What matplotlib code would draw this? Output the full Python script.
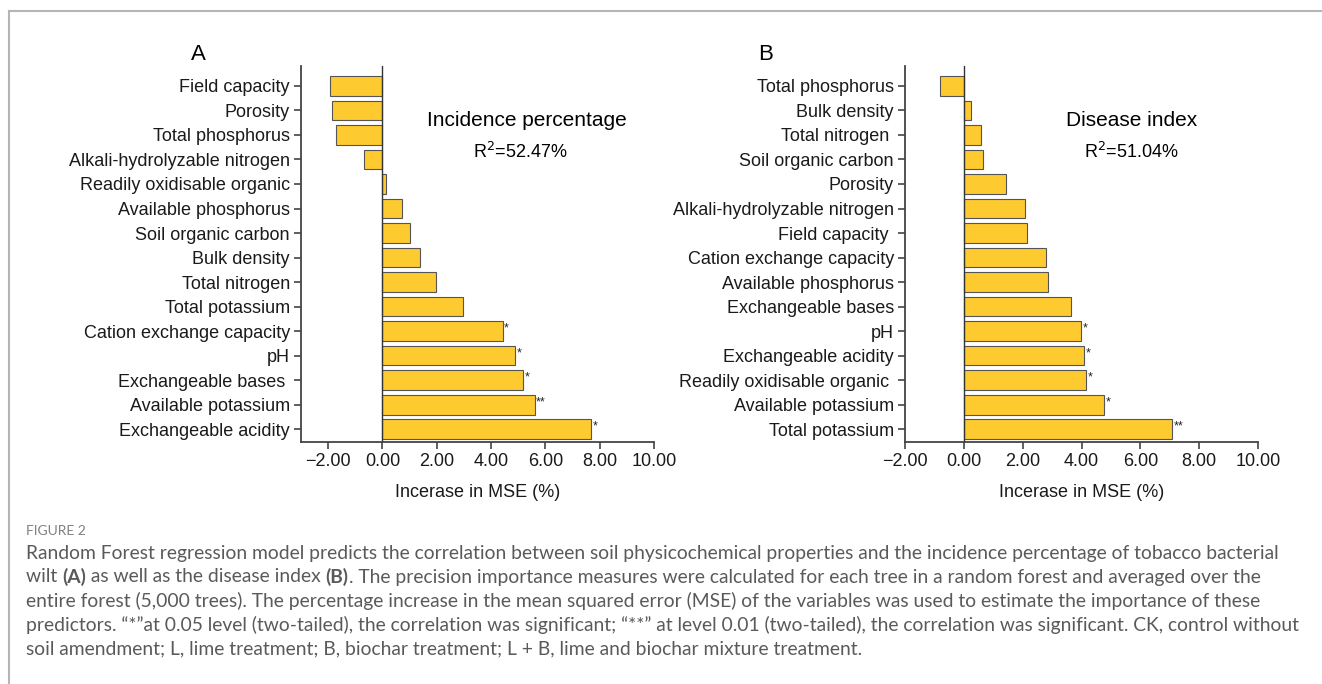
import matplotlib
matplotlib.use("Agg")
import matplotlib.pyplot as plt
from matplotlib.lines import Line2D

plt.rcParams['font.family'] = ['Liberation Sans', 'DejaVu Sans']

# panel A - incidence percentage
labels_a = ["Field capacity", "Porosity", "Total phosphorus", "Alkali-hydrolyzable nitrogen",
            "Readily oxidisable organic", "Available phosphorus", "Soil organic carbon",
            "Bulk density", "Total nitrogen", "Total potassium", "Cation exchange capacity",
            "pH", "Exchangeable bases ", "Available potassium", "Exchangeable acidity"]
values_a = [-1.95, -1.87, -1.70, -0.67, 0.13, 0.73, 1.03, 1.39, 1.97, 2.96, 4.43, 4.88, 5.19, 5.61, 7.69]
sig_a = ["", "", "", "", "", "", "", "", "", "", "*", "*", "*", "**", "*"]

# panel B - disease index
labels_b = ["Total phosphorus", "Bulk density", "Total nitrogen ", "Soil organic carbon",
            "Porosity", "Alkali-hydrolyzable nitrogen", "Field capacity ",
            "Cation exchange capacity", "Available phosphorus", "Exchangeable bases", "pH",
            "Exchangeable acidity", "Readily oxidisable organic ", "Available potassium",
            "Total potassium"]
values_b = [-0.81, 0.25, 0.59, 0.66, 1.43, 2.08, 2.14, 2.79, 2.87, 3.65, 3.99, 4.09, 4.15, 4.77, 7.08]
sig_b = ["", "", "", "", "", "", "", "", "", "", "*", "*", "*", "*", "**"]

xticks = [-2, 0, 2, 4, 6, 8, 10]

W, H = 1322, 684
fig = plt.figure(figsize=(W / 100, H / 100), dpi=100)


def box(x0, x1, y0, y1):
    return [x0 / W, 1 - y1 / H, (x1 - x0) / W, (y1 - y0) / H]


def ftext(x, y, s, **kw):
    # place text in pixel coords from top-left
    return fig.text(x / W, 1 - y / H, s, **kw)


def panel(ax, labels, values, sig, xmin):
    y = list(range(len(labels)))
    ax.barh(y, values, height=0.8, color="#FDCA30", edgecolor="#555555", linewidth=0.8, zorder=2)
    ax.axvline(0, color="#333333", lw=1.0, zorder=3)
    for yi, v, s in zip(y, values, sig):
        if s:
            ax.text(v + 0.05, yi - 0.1, s, fontsize=9, va="center", ha="left", color="#222222")
    ax.set_ylim(len(labels) - 0.48, -0.81)
    ax.set_xlim(xmin, 10)
    ax.set_xticks(xticks)
    ax.set_xticklabels(["\u22122.00" if t < 0 else "%.2f" % t for t in xticks])
    ax.set_yticks(y)
    ax.set_yticklabels(labels)
    for s in ["top", "right"]:
        ax.spines[s].set_visible(False)
    for s in ["left", "bottom"]:
        ax.spines[s].set_color("#444444")
        ax.spines[s].set_linewidth(1.3)
    ax.tick_params(axis="both", labelsize=13, color="#444444", width=1.2, length=5, pad=3,
                   labelcolor="#1a1a1a")
    ax.set_xlabel("Incerase in MSE (%)", fontsize=13, labelpad=10, color="#1a1a1a")


ax1 = fig.add_axes(box(301, 654, 66, 442))
panel(ax1, labels_a, values_a, sig_a, -3)
ftext(198, 55, "A", fontsize=16, ha="center", va="center")
ftext(527, 120, "Incidence percentage", fontsize=15, ha="center", va="center")
ftext(520, 152, r"R$^2$=52.47%", fontsize=13, ha="center", va="center")

ax2 = fig.add_axes(box(905, 1258, 66, 442))
panel(ax2, labels_b, values_b, sig_b, -2)
ftext(766, 55, "B", fontsize=16, ha="center", va="center")
ftext(1132, 120, "Disease index", fontsize=15, ha="center", va="center")
ftext(1131, 152, r"R$^2$=51.04%", fontsize=13, ha="center", va="center")

# frame lines
fig.add_artist(Line2D([9 / W, 1], [1 - 11 / H, 1 - 11 / H], color="#b5b5b5", lw=1.5))
fig.add_artist(Line2D([9 / W, 9 / W], [0, 1 - 11 / H], color="#b5b5b5", lw=1.5))

# caption
cap_font = ['Lato', 'DejaVu Sans']
ftext(26, 531, "FIGURE 2", fontsize=10, color="#808080", family=cap_font, va="center", ha="left")

caption = [
    [("Random Forest regression model predicts the correlation between soil physicochemical "
      "properties and the incidence percentage of tobacco bacterial", False)],
    [("wilt ", False), ("(A)", True), (" as well as the disease index ", False), ("(B)", True),
     (". The precision importance measures were calculated for each tree in a random forest "
      "and averaged over the", False)],
    [("entire forest (5,000 trees). The percentage increase in the mean squared error (MSE) of "
      "the variables was used to estimate the importance of these", False)],
    [("predictors. \u201c*\u201dat 0.05 level (two-tailed), the correlation was significant; "
      "\u201c**\u201d at level 0.01 (two-tailed), the correlation was significant. CK, control "
      "without", False)],
    [("soil amendment; L, lime treatment; B, biochar treatment; L + B, lime and biochar mixture "
      "treatment.", False)],
]

renderer = fig.canvas.get_renderer()
for i, line in enumerate(caption):
    x = 26
    ypix = 553 + i * 24
    for txt, bold in line:
        t = ftext(x, ypix, txt, fontsize=13.9, color="#5a5a5a", family=cap_font,
                  fontweight="bold" if bold else "normal", va="center", ha="left")
        x += t.get_window_extent(renderer).width

fig.savefig("out.png", dpi=100)
